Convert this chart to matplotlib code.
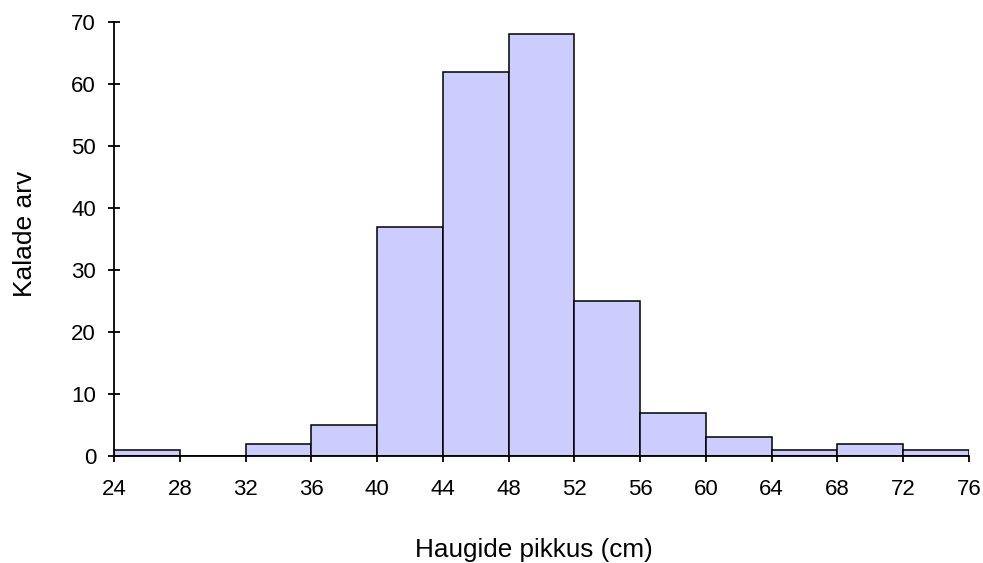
import matplotlib
matplotlib.use("Agg")
import matplotlib.pyplot as plt

plt.rcParams['font.family'] = ['Liberation Sans', 'DejaVu Sans']

bin_edges = [24, 28, 32, 36, 40, 44, 48, 52, 56, 60, 64, 68, 72, 76]
counts = [1, 0, 2, 5, 37, 62, 68, 25, 7, 3, 1, 2, 1]
xticks = bin_edges
yticks = [0, 10, 20, 30, 40, 50, 60, 70]

fig = plt.figure(figsize=(9.83, 5.63), dpi=100)
ax = fig.add_axes([114/983, 1 - 456/563, (969-114)/983, (456-22)/563])

ax.bar(bin_edges[:-1], counts, width=4, align='edge', color='#CCCCFF',
       edgecolor='black', linewidth=1.1)

ax.set_xlim(24, 76)
ax.set_ylim(0, 70)
ax.set_xticks(xticks)
ax.set_yticks(yticks)
for s in ['top', 'right']:
    ax.spines[s].set_visible(False)
for s in ['left', 'bottom']:
    ax.spines[s].set_linewidth(1.3)
ax.tick_params(axis='x', direction='out', length=4.3, width=1.3, pad=12, labelsize=16)
ax.tick_params(axis='y', direction='inout', length=8.6, width=1.3, pad=8.6, labelsize=16)

ax.set_xlabel('Haugide pikkus (cm)', fontsize=18.8)
ax.xaxis.label.set_va('baseline')
ax.xaxis.set_label_coords((533.5 - 114) / 855, (456 - 557) / 434)

ax.set_ylabel('Kalade arv', fontsize=19)
ax.yaxis.label.set_va('baseline')
ax.yaxis.set_label_coords((32 - 114) / 855, (456 - 234) / 434)

fig.savefig('out.png', dpi=100)
